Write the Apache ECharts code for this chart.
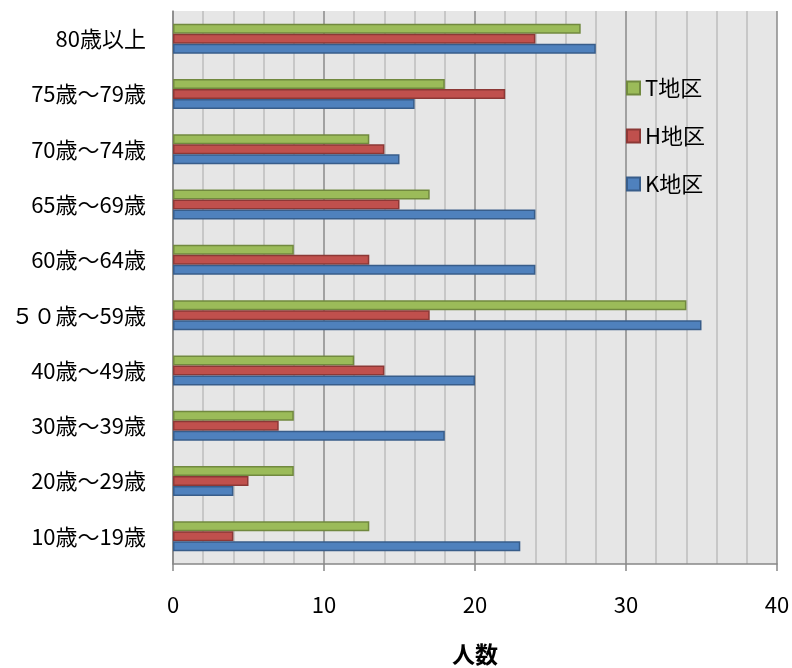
<!DOCTYPE html>
<html><head><meta charset="utf-8">
<script src="https://cdn.jsdelivr.net/npm/echarts@6/dist/echarts.min.js"></script>
<style>html,body{margin:0;padding:0;background:#fff}#c{width:792px;height:668px}</style>
</head><body><div id="c"></div>
<script>
const categories = ['10歳～19歳','20歳～29歳','30歳～39歳','40歳～49歳','５０歳～59歳','60歳～64歳','65歳～69歳','70歳～74歳','75歳～79歳','80歳以上'];
const kValues = [23, 4, 18, 20, 35, 24, 24, 15, 16, 28];
const hValues = [4, 5, 7, 14, 17, 13, 15, 14, 22, 24];
const tValues = [13, 8, 8, 12, 34, 8, 17, 13, 18, 27];
const xTicks = [0, 10, 20, 30, 40];
const font = '"Noto Sans CJK JP", "Noto Sans", sans-serif';
const chart = echarts.init(document.getElementById('c'));
function s(name, data, color, border){
  return {name, type:'bar', data, barWidth:10, barGap:'0%',
    itemStyle:{color, borderColor:border, borderWidth:1.5}};
}
chart.setOption({
  animation:false,
  textStyle:{fontFamily:font},
  grid:{left:173, right:15, top:11, bottom:104, containLabel:false, outerBoundsMode:'none',
    show:true, backgroundColor:'#e6e6e6', borderWidth:0},
  legend:{data:['T地区','H地区','K地区'], orient:'vertical', left:621, top:72, itemGap:26,
    itemWidth:13, itemHeight:13, icon:'rect',
    textStyle:{fontSize:22, color:'#000', fontFamily:font}},
  xAxis:{type:'value', min:xTicks[0], max:xTicks[xTicks.length-1], interval:10,
    name:'人数', nameLocation:'middle', nameGap:79,
    nameTextStyle:{fontSize:23, fontWeight:'bold', color:'#000', fontFamily:font},
    axisLine:{show:true, lineStyle:{color:'#888', width:1.5}},
    axisTick:{show:true, length:7, lineStyle:{color:'#888', width:1.5}},
    axisLabel:{fontSize:22, color:'#000', margin:30, fontFamily:font},
    splitLine:{show:true, lineStyle:{color:'#8a8a8a', width:1.5}},
    minorTick:{show:false, splitNumber:5},
    minorSplitLine:{show:true, lineStyle:{color:'#bdbdbd', width:1.5}}},
  yAxis:{type:'category', data:categories,
    axisLine:{show:true, lineStyle:{color:'#888', width:1.5}},
    axisTick:{show:false},
    axisLabel:{fontSize:22, color:'#000', margin:27, fontFamily:font},
    splitLine:{show:false}},
  series:[
    s('T地区', tValues, '#9BBB59', '#71893F'),
    s('H地区', hValues, '#C0504D', '#8C3836'),
    s('K地区', kValues, '#4F81BD', '#385D8A')
  ]
});
</script></body></html>
